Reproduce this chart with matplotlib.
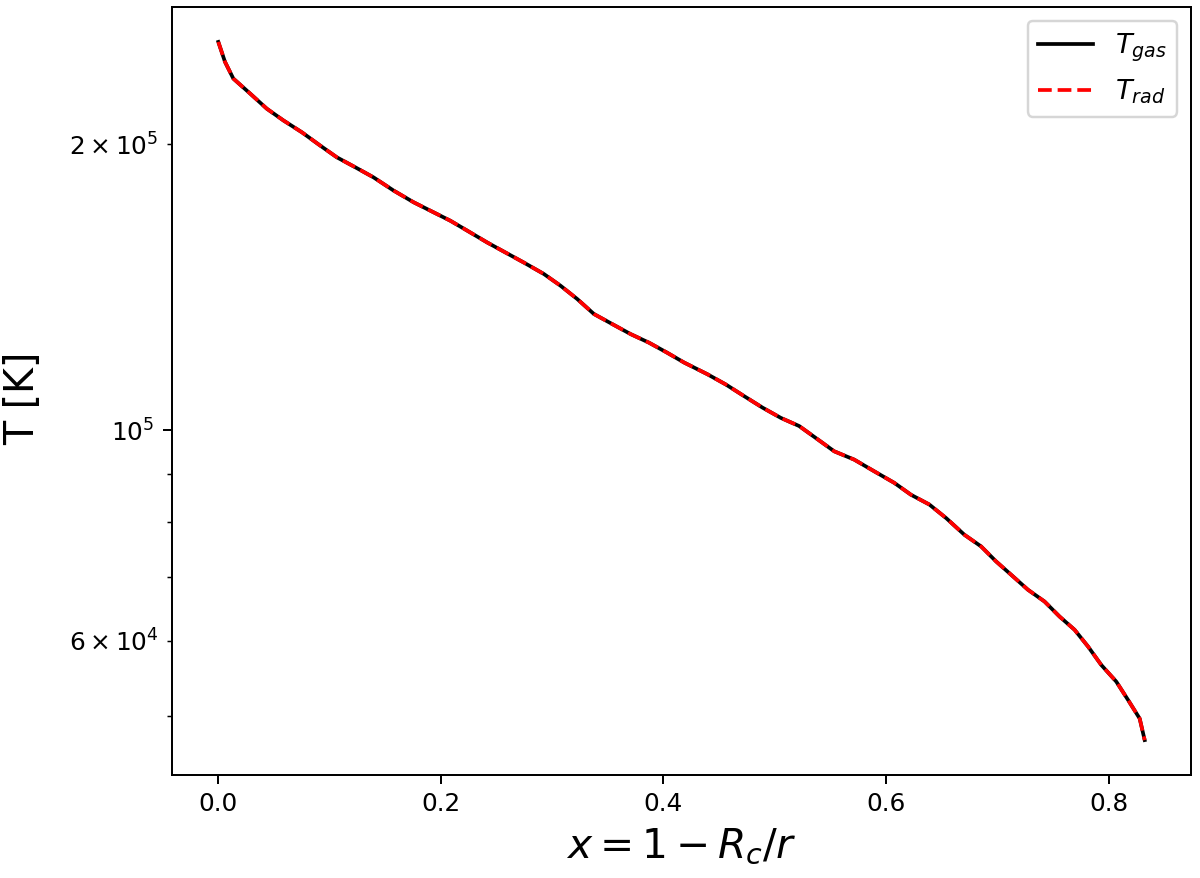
import numpy as np
from matplotlib import pyplot as plt

# x = 1 - Rc/r
x = [0.0000, 0.0060, 0.0135, 0.0285, 0.0436, 0.0585, 0.0751, 0.0915, 0.1065, 0.1230,
     0.1395, 0.1575, 0.1755, 0.1905, 0.2085, 0.2235, 0.2415, 0.2580, 0.2745, 0.2925,
     0.3075, 0.3225, 0.3375, 0.3540, 0.3705, 0.3870, 0.4035, 0.4185, 0.4395, 0.4560,
     0.4724, 0.4890, 0.5055, 0.5219, 0.5385, 0.5534, 0.5714, 0.5894, 0.6074, 0.6224,
     0.6389, 0.6540, 0.6704, 0.6854, 0.6989, 0.7124, 0.7275, 0.7424, 0.7559, 0.7694,
     0.7815, 0.7934, 0.8069, 0.8175, 0.8279, 0.8324]

# gas temperature [K]
T_gas = [256200, 244100, 234400, 226100, 217900, 211800, 205800, 199300, 193700, 189100,
         184500, 178700, 173700, 170200, 166100, 162200, 157600, 153800, 150100, 146000,
         141900, 137400, 132500, 129300, 126200, 123600, 120600, 117800, 114500, 111700,
         108600, 105600, 103000, 101000, 97800, 95000, 93100, 90500, 88000, 85500,
         83500, 80800, 77600, 75440, 72740, 70430, 67920, 66010, 63650, 61640,
         59190, 56600, 54360, 51990, 49710, 47180]

# radiation temperature [K] (indistinguishable from T_gas in the figure)
T_rad = [256200, 244100, 234400, 226100, 217900, 211800, 205800, 199300, 193700, 189100,
         184500, 178700, 173700, 170200, 166100, 162200, 157600, 153800, 150100, 146000,
         141900, 137400, 132500, 129300, 126200, 123600, 120600, 117800, 114500, 111700,
         108600, 105600, 103000, 101000, 97800, 95000, 93100, 90500, 88000, 85500,
         83500, 80800, 77600, 75440, 72740, 70430, 67920, 66010, 63650, 61640,
         59190, 56600, 54360, 51990, 49710, 47180]

fig = plt.figure(figsize=(1200/178, 878/178), dpi=178)
ax = fig.add_axes([172/1200, 1 - 775/878, (1191 - 172)/1200, (775 - 7)/878])

ax.plot(x, T_gas, color='k', label=r'$T_{gas}$')
ax.plot(x, T_rad, 'r--', label=r'$T_{rad}$')
ax.set_yscale('log')
ax.set_xlabel(r'$x = 1 - R_c/r$', fontsize=16.5)
ax.set_ylabel('T [K]', fontsize=16)
ax.yaxis.set_label_coords(-0.126, 0.49)
ax.legend(fontsize=11, loc='upper right')

fig.savefig('out.png', dpi=178)
